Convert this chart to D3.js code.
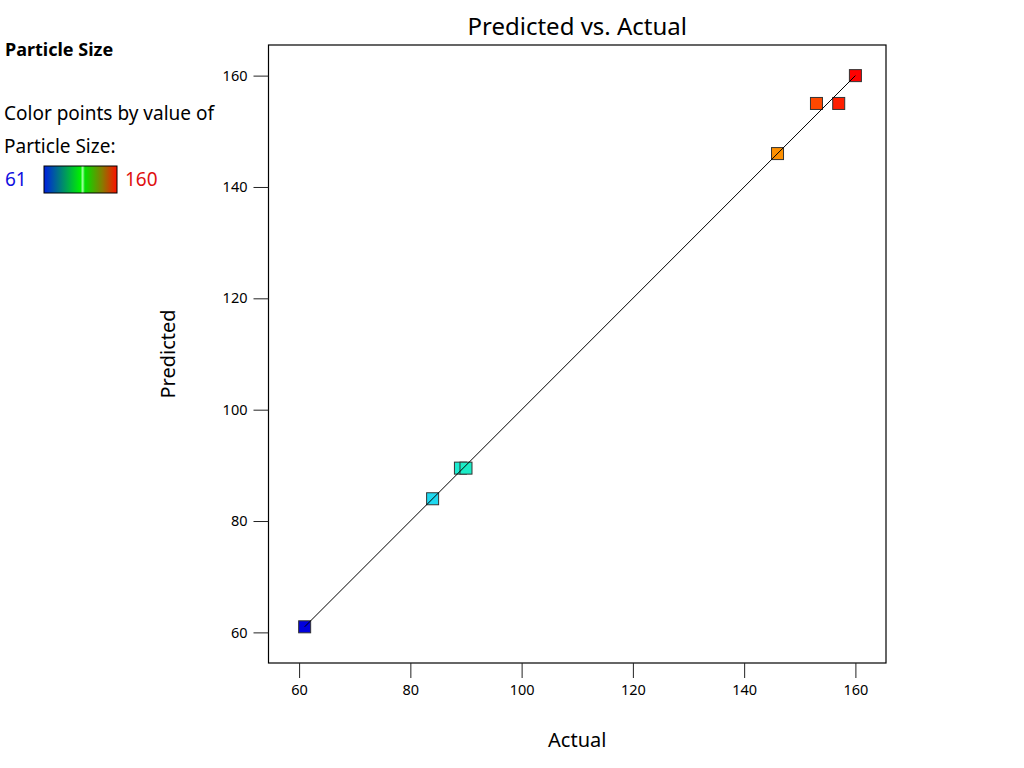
<!DOCTYPE html>
<html>
<head>
<meta charset="utf-8">
<script src="https://cdn.jsdelivr.net/npm/d3@7"></script>
<style>
  body { margin: 0; background: #fff; }
  svg text { font-family: "Noto Sans", "Open Sans", sans-serif; fill: #000; }
</style>
</head>
<body>
<svg id="chart" width="1024" height="768"></svg>
<script>
// actual vs predicted particle size for each run
var actual    = [61, 84, 89, 90, 146, 153, 157, 160];
var predicted = [61, 84, 89.5, 89.5, 146, 155, 155, 160];
var ticks = [60, 80, 100, 120, 140, 160];
var colorMin = 61, colorMax = 160;

var svg = d3.select("#chart");
var plotL = 268.5, plotR = 886, plotT = 45, plotB = 663;

var x = d3.scaleLinear().domain([54.5, 165.5]).range([plotL, plotR]);
var y = d3.scaleLinear().domain([54.5, 165.5]).range([plotB, plotT]);

// rainbow used to colour the points
var step = (colorMax - colorMin) / 4;
var color = d3.scaleLinear()
	.domain([colorMin, colorMin + step, colorMin + 2*step, colorMin + 3*step, colorMax])
	.range(["#0000dd", "#20e8f0", "#00ff00", "#ffff00", "#ff0000"]);

// frame
svg.append("rect")
	.attr("x", plotL)
	.attr("y", plotT)
	.attr("width", plotR - plotL)
	.attr("height", plotB - plotT)
	.attr("fill", "none")
	.attr("stroke", "black")
	.attr("stroke-width", 1.2);

var xAxis = svg.append("g")
	.attr("transform", "translate(0," + plotB + ")")
	.call(d3.axisBottom(x).tickValues(ticks).tickSize(15).tickPadding(7));
var yAxis = svg.append("g")
	.attr("transform", "translate(" + plotL + ",0)")
	.call(d3.axisLeft(y).tickValues(ticks).tickSize(15).tickPadding(6));
[xAxis, yAxis].forEach(function(a){
	a.select(".domain").remove();
	a.selectAll(".tick line").attr("stroke", "#222");
	a.selectAll(".tick text").attr("font-size", 14.5).attr("font-family", null);
});

// points
var sq = 12;
svg.append("g").selectAll("rect")
	.data(actual)
	.join("rect")
	.attr("x", function(d){ return x(d) - sq/2; })
	.attr("y", function(d, i){ return y(predicted[i]) - sq/2; })
	.attr("width", sq)
	.attr("height", sq)
	.attr("fill", function(d){ return color(d); })
	.attr("stroke", "#333")
	.attr("stroke-width", 1);

// y = x reference line
svg.append("line")
	.attr("x1", x(d3.min(actual)))
	.attr("y1", y(d3.min(actual)))
	.attr("x2", x(d3.max(actual)))
	.attr("y2", y(d3.max(actual)))
	.attr("stroke", "black")
	.attr("stroke-width", 1);

// titles
svg.append("text")
	.attr("x", (plotL + plotR)/2)
	.attr("y", 35)
	.attr("text-anchor", "middle")
	.attr("font-size", 24)
	.text("Predicted vs. Actual");

svg.append("text")
	.attr("x", (plotL + plotR)/2)
	.attr("y", 747)
	.attr("text-anchor", "middle")
	.attr("font-size", 20)
	.text("Actual");

svg.append("text")
	.attr("transform", "translate(175," + (plotT + plotB)/2 + ") rotate(-90)")
	.attr("text-anchor", "middle")
	.attr("font-size", 20)
	.text("Predicted");

// legend
svg.append("text")
	.attr("x", 5).attr("y", 56)
	.attr("font-size", 18)
	.attr("font-weight", "bold")
	.text("Particle Size");
svg.append("text")
	.attr("x", 4).attr("y", 120)
	.attr("font-size", 19)
	.text("Color points by value of");
svg.append("text")
	.attr("x", 4).attr("y", 153)
	.attr("font-size", 19)
	.text("Particle Size:");

var grad = svg.append("defs").append("linearGradient").attr("id", "legendGrad");
[[0, "#0020e0"], [0.5, "#00f000"], [0.53, "#a0ffa0"], [0.56, "#00e000"], [0.8, "#887a00"], [1, "#ff1000"]]
	.forEach(function(s){
		grad.append("stop").attr("offset", s[0]).attr("stop-color", s[1]);
	});
svg.append("rect")
	.attr("x", 44).attr("y", 166)
	.attr("width", 73).attr("height", 27)
	.attr("fill", "url(#legendGrad)")
	.attr("stroke", "black");

svg.append("text")
	.attr("x", 5).attr("y", 186)
	.attr("font-size", 19)
	.style("fill", "#1010e0")
	.text(colorMin);
svg.append("text")
	.attr("x", 125).attr("y", 186)
	.attr("font-size", 19)
	.style("fill", "#e01010")
	.text(colorMax);
</script>
</body>
</html>
